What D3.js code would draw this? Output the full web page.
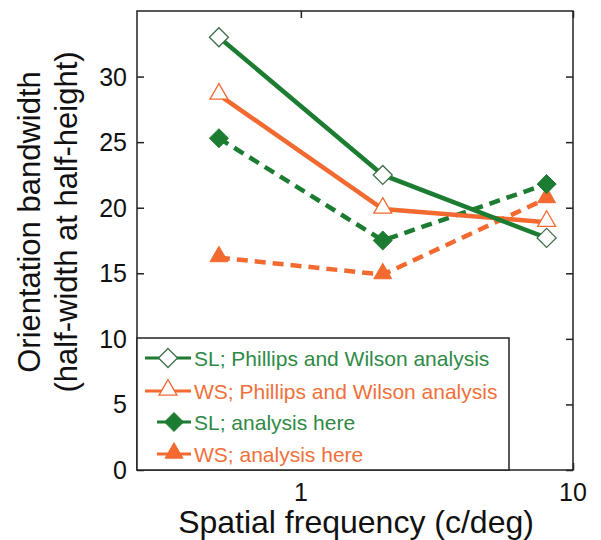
<!DOCTYPE html>
<html>
<head>
<meta charset="utf-8">
<script src="https://cdn.jsdelivr.net/npm/d3@7"></script>
<style>
  body { margin: 0; background: #fff; }
  text { font-family: "Liberation Sans", Arial, sans-serif; }
</style>
</head>
<body>
<svg id="chart" width="601" height="540"></svg>
<script>
// spatial frequency (c/deg)
var freqs = [0.5, 2, 8];
var slPW = [33.0, 22.5, 17.7];
var wsPW = [28.6, 19.9, 18.9];
var slHere = [25.3, 17.5, 21.8];
var wsHere = [16.2, 14.9, 20.7];
var yTicks = [0, 5, 10, 15, 20, 25, 30];
var xTicks = [1, 10];

var green = "#1c7d32", orange = "#f26a30";

var series = [
    {name: "SL; Phillips and Wilson analysis", vals: slPW, color: green, shape: "diamond", filled: false, dash: null},
    {name: "WS; Phillips and Wilson analysis", vals: wsPW, color: orange, shape: "triangle", filled: false, dash: null},
    {name: "SL; analysis here", vals: slHere, color: green, shape: "diamond", filled: true, dash: "11,7"},
    {name: "WS; analysis here", vals: wsHere, color: orange, shape: "triangle", filled: true, dash: "11,7"}
];

// plot box edges (note: "top" is reserved on window, so use plot* names)
var plotL = 137, plotR = 573, plotT = 11, plotB = 470;

var svg = d3.select("#chart");

var x = d3.scaleLog().domain([0.25, 10]).range([plotL, plotR]);
var y = d3.scaleLinear().domain([0, 35]).range([plotB, plotT]);

// frame
svg.append("rect")
    .attr("x", plotL).attr("y", plotT)
    .attr("width", plotR - plotL).attr("height", plotB - plotT)
    .attr("fill", "none").attr("stroke", "#222").attr("stroke-width", 1.5);

// y axis (ticks point inward)
svg.append("g")
    .attr("transform", "translate(" + plotL + ",0)")
    .call(d3.axisRight(y).tickValues(yTicks).tickSize(7).tickFormat(""))
    .call(function(g) { g.select(".domain").remove(); });
svg.append("g")
    .attr("transform", "translate(" + plotR + ",0)")
    .call(d3.axisLeft(y).tickValues(yTicks).tickSize(7).tickFormat(""))
    .call(function(g) { g.select(".domain").remove(); });
svg.selectAll("text.ylab")
    .data(yTicks)
    .enter()
    .append("text")
    .attr("class", "ylab")
    .attr("x", 127)
    .attr("y", function(d) { return y(d) + 9; })
    .attr("text-anchor", "end")
    .attr("font-size", 25)
    .attr("fill", "#111")
    .text(function(d) { return d; });

// x axis
svg.append("g")
    .attr("transform", "translate(0," + plotB + ")")
    .call(d3.axisTop(x).tickValues(xTicks).tickSize(7).tickFormat(""))
    .call(function(g) { g.select(".domain").remove(); });
svg.append("g")
    .attr("transform", "translate(0," + plotT + ")")
    .call(d3.axisBottom(x).tickValues(xTicks).tickSize(7).tickFormat(""))
    .call(function(g) { g.select(".domain").remove(); });
svg.selectAll("text.xlab")
    .data(xTicks)
    .enter()
    .append("text")
    .attr("class", "xlab")
    .attr("x", function(d) { return x(d); })
    .attr("y", 501)
    .attr("text-anchor", "middle")
    .attr("font-size", 25)
    .attr("fill", "#111")
    .text(function(d) { return d; });

svg.selectAll(".tick line").attr("stroke", "#222").attr("stroke-width", 1.5);

// axis titles
svg.append("text")
    .attr("x", 356).attr("y", 533)
    .attr("text-anchor", "middle")
    .attr("font-size", 32)
    .attr("fill", "#111")
    .text("Spatial frequency (c/deg)");

var yl = svg.append("text")
    .attr("transform", "translate(0,222) rotate(-90)")
    .attr("text-anchor", "middle")
    .attr("font-size", 31)
    .attr("fill", "#111");
yl.append("tspan").attr("x", 0).attr("y", 40).text("Orientation bandwidth");
yl.append("tspan").attr("x", 0).attr("y", 77).text("(half-width at half-height)");

function markerPath(shape, size) {
    if (shape === "diamond") return d3.symbol(d3.symbolDiamond2, size)();
    return d3.symbol(d3.symbolTriangle2, size)();
}

function drawMarker(g, s, cx, cy) {
    var isTri = s.shape === "triangle";
    var size = isTri ? 230 : 230;
    g.append("path")
        .attr("d", markerPath(s.shape, size))
        .attr("transform", "translate(" + cx + "," + (cy + (isTri ? -1 : 0)) + ")")
        .attr("fill", s.filled ? s.color : "#fff")
        .attr("stroke", s.filled ? s.color : (isTri ? s.color : "#3d6e4a"))
        .attr("stroke-width", s.filled ? 1 : 1.3);
}

var line = d3.line()
    .x(function(d, i) { return x(freqs[i]); })
    .y(function(d) { return y(d); });

// draw dashed series first, then solid ones
var order = [3, 2, 1, 0];
order.forEach(function(k) {
    var s = series[k];
    svg.append("path")
        .datum(s.vals)
        .attr("d", line)
        .attr("fill", "none")
        .attr("stroke", s.color)
        .attr("stroke-width", 4.5)
        .attr("stroke-dasharray", s.dash);
});
order.forEach(function(k) {
    var s = series[k];
    var g = svg.append("g");
    s.vals.forEach(function(v, i) {
        drawMarker(g, s, x(freqs[i]), y(v));
    });
});

// legend
var lg = svg.append("g");
lg.append("rect")
    .attr("x", plotL).attr("y", 338)
    .attr("width", 509 - plotL).attr("height", plotB - 338)
    .attr("fill", "#fff").attr("stroke", "#222").attr("stroke-width", 1.5);

var legY = [358, 391, 422, 454];
series.forEach(function(s, i) {
    var x0 = s.filled ? 157 : 145;
    lg.append("line")
        .attr("x1", x0).attr("x2", 191)
        .attr("y1", legY[i]).attr("y2", legY[i])
        .attr("stroke", s.color)
        .attr("stroke-width", 3);
    drawMarker(lg, s, (x0 + 191) / 2, legY[i]);
    lg.append("text")
        .attr("x", 194)
        .attr("y", legY[i] + 7.5)
        .attr("font-size", 21)
        .attr("fill", s.color === green ? "#2e8a45" : "#f0703a")
        .text(s.name);
});
</script>
</body>
</html>
